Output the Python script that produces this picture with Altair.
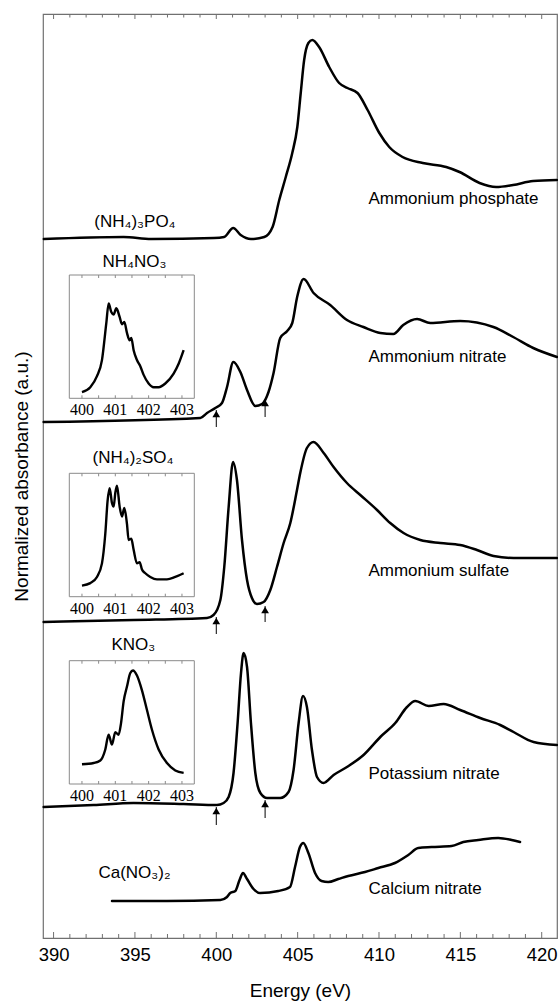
import altair as alt
import pandas as pd

# ---------------- data ----------------
# Energy (eV) and stacked normalized absorbance (a.u.)
phos_E = [389.4, 394.3, 396.0, 399.86, 400.48, 401.04, 401.5, 402.13, 402.95, 403.46, 403.87, 404.27,
          404.67, 404.98, 405.19, 405.4, 405.66, 405.9, 406.32, 406.94, 407.55, 408.06, 408.68, 409.3,
          410.02, 410.63, 411.45, 412.69, 414.13, 414.95, 416.18, 417.2, 418.24, 419.47, 420.94]
phos_A = [6.99, 7.01, 6.99, 7.00, 7.01, 7.10, 7.03, 6.99, 7.01, 7.11, 7.38, 7.61,
          7.85, 8.11, 8.45, 8.78, 8.95, 8.98, 8.91, 8.71, 8.55, 8.50, 8.45, 8.28,
          8.05, 7.91, 7.81, 7.75, 7.71, 7.66, 7.55, 7.51, 7.53, 7.57, 7.58]

nit_E = [389.39, 399.02, 399.43, 399.94, 400.35, 400.66, 401.05, 401.48, 401.89, 402.4, 402.81, 403.21,
         403.52, 403.93, 404.36, 404.67, 404.97, 405.37, 405.98, 407.0, 408.03, 409.04, 410.08, 410.88,
         411.49, 412.34, 413.15, 414.99, 417.03, 418.25, 419.48, 420.94]
nit_A = [5.16, 5.20, 5.25, 5.30, 5.35, 5.51, 5.76, 5.66, 5.48, 5.32, 5.34, 5.46,
         5.65, 6.00, 6.07, 6.15, 6.41, 6.59, 6.45, 6.33, 6.18, 6.11, 6.05, 6.04,
         6.13, 6.19, 6.15, 6.17, 6.11, 6.01, 5.90, 5.81]

sul_E = [389.39, 394.92, 399.43, 399.83, 400.25, 400.49, 400.76, 401.03, 401.27, 401.58, 401.89, 402.19,
         402.5, 402.91, 403.32, 403.73, 404.14, 404.55, 404.96, 405.16, 405.57, 405.98, 406.6, 407.21,
         408.03, 408.85, 409.88, 410.69, 411.51, 412.54, 413.77, 414.99, 416.02, 417.04, 418.27, 419.5, 420.94]
sul_A = [3.16, 3.18, 3.20, 3.23, 3.38, 3.71, 4.31, 4.76, 4.58, 3.98, 3.58, 3.40,
         3.34, 3.36, 3.48, 3.71, 3.95, 4.15, 4.48, 4.65, 4.90, 4.96, 4.85, 4.71,
         4.55, 4.43, 4.28, 4.15, 4.05, 3.98, 3.95, 3.93, 3.88, 3.82, 3.80, 3.80, 3.80]

kno_E = [389.39, 392.46, 394.92, 397.99, 400.04, 400.45, 400.76, 401.06, 401.31, 401.52, 401.68, 401.89,
         402.13, 402.4, 402.71, 403.12, 403.93, 404.44, 404.75, 405.06, 405.33, 405.57, 405.88, 406.19,
         406.59, 407.21, 408.03, 409.05, 410.08, 411.0, 411.72, 412.23, 413.05, 413.97, 414.99, 416.22,
         417.45, 418.27, 419.5, 420.94]
kno_A = [1.31, 1.33, 1.35, 1.34, 1.33, 1.35, 1.41, 1.65, 2.15, 2.65, 2.85, 2.71,
         2.15, 1.65, 1.45, 1.40, 1.40, 1.46, 1.68, 2.15, 2.42, 2.31, 1.88, 1.61,
         1.55, 1.63, 1.71, 1.83, 2.01, 2.15, 2.31, 2.37, 2.32, 2.34, 2.28, 2.20,
         2.13, 2.06, 1.96, 1.93]

ca_E = [393.59, 396.97, 400.25, 400.66, 400.86, 401.17, 401.43, 401.64, 401.89, 402.29, 402.7, 403.81,
        404.53, 404.84, 405.14, 405.35, 405.66, 406.07, 406.47, 406.88, 407.5, 408.11, 409.14, 409.96,
        410.98, 411.8, 412.41, 413.23, 414.46, 415.18, 416.1, 417.33, 418.15, 418.67]
ca_A = [0.37, 0.37, 0.38, 0.41, 0.45, 0.47, 0.58, 0.65, 0.59, 0.49, 0.45, 0.47,
        0.51, 0.71, 0.91, 0.95, 0.85, 0.65, 0.57, 0.56, 0.59, 0.62, 0.66, 0.70,
        0.75, 0.83, 0.90, 0.91, 0.92, 0.96, 0.98, 1.00, 0.98, 0.96]

# Insets (401 eV region), normalized intensity
in_nit_E = [400.0, 400.25, 400.45, 400.6, 400.73, 400.8, 400.88, 400.95, 401.03, 401.13, 401.2, 401.27, 401.35,
            401.43, 401.48, 401.55, 401.65, 401.75, 401.85, 402.0, 402.15, 402.3, 402.5, 402.75, 402.9, 403.05]
in_nit_I = [0.05, 0.09, 0.18, 0.31, 0.61, 0.77, 0.70, 0.68, 0.73, 0.66, 0.60, 0.62, 0.53,
            0.47, 0.49, 0.39, 0.31, 0.26, 0.19, 0.12, 0.09, 0.09, 0.12, 0.20, 0.28, 0.39]
in_sul_E = [400.0, 400.25, 400.45, 400.6, 400.7, 400.77, 400.83, 400.9, 400.95, 401.0, 401.05, 401.13, 401.2,
            401.27, 401.35, 401.4, 401.48, 401.55, 401.65, 401.73, 401.8, 401.9, 402.05, 402.25, 402.55, 402.8, 403.05]
in_sul_I = [0.09, 0.11, 0.16, 0.27, 0.51, 0.78, 0.88, 0.76, 0.73, 0.84, 0.90, 0.73, 0.65,
            0.72, 0.59, 0.46, 0.47, 0.38, 0.27, 0.28, 0.22, 0.19, 0.16, 0.14, 0.14, 0.16, 0.19]
in_kno_E = [400.0, 400.35, 400.55, 400.7, 400.8, 400.9, 401.0, 401.1, 401.17, 401.25, 401.35, 401.45, 401.53,
            401.65, 401.8, 401.95, 402.1, 402.3, 402.55, 402.8, 403.05]
in_kno_I = [0.16, 0.17, 0.19, 0.28, 0.40, 0.32, 0.42, 0.40, 0.49, 0.67, 0.79, 0.90, 0.92,
            0.88, 0.76, 0.60, 0.44, 0.28, 0.17, 0.11, 0.09]

# Arrows (energy, tip and tail absorbance)
arrow_E = [400, 403, 400, 403, 400, 403]
arrow_tip = [5.28, 5.39, 3.21, 3.32, 1.31, 1.38]
arrow_tail = [5.11, 5.21, 3.04, 3.16, 1.13, 1.20]

# Curve labels
right_labels = ["Ammonium phosphate", "Ammonium nitrate", "Ammonium sulfate", "Potassium nitrate", "Calcium nitrate"]
right_label_E = [409.35, 409.35, 409.35, 409.35, 409.35]
right_label_A = [7.39, 5.81, 3.67, 1.64, 0.49]
left_labels = ["(NH₄)₃PO₄", "NH₄NO₃", "(NH₄)₂SO₄", "KNO₃", "Ca(NO₃)₂"]
left_label_E = [395.0, 394.97, 394.88, 394.9, 394.97]
left_label_A = [7.16, 6.76, 4.80, 2.93, 0.65]

major_ticks = [390, 395, 400, 405, 410, 415, 420]
minor_ticks = [v for v in range(390, 421) if v % 5 != 0]
inset_ticks = [400, 400.5, 401, 401.5, 402, 402.5, 403]
inset_labels = [400, 401, 402, 403]

# ---------------- layout ----------------
W, H = 514, 924
X_DOMAIN = [389.35, 420.94]
Y_DOMAIN = [0, 9.24]
INSET_DOMAIN = [399.62, 403.37]
INSET_X_RANGE = [26.3, 151.3]
FONT = "Liberation Sans"
SERIF = "Liberation Serif"

xs = alt.Scale(domain=X_DOMAIN, nice=False, zero=False)
ys = alt.Scale(domain=Y_DOMAIN, nice=False, zero=False)
x_axis = alt.Axis(values=major_ticks, ticks=False, domain=False, grid=False, labelFontSize=18.5,
                  labelFont=FONT, labelColor="black", labelPadding=7, title="Energy (eV)",
                  titleFontSize=19, titleFont=FONT, titleFontWeight="normal", titleColor="black",
                  titlePadding=18, format="d")
y_axis = alt.Axis(labels=False, ticks=False, domain=False, grid=False,
                  title="Normalized absorbance (a.u.)", titleFontSize=19, titleFont=FONT,
                  titleFontWeight="normal", titleColor="black", titlePadding=12)


def X(field):
    return alt.X(field, type="quantitative", scale=xs, axis=x_axis)


def Y(field):
    return alt.Y(field, type="quantitative", scale=ys, axis=y_axis)


rows = []
for name, E, A in [("phos", phos_E, phos_A), ("nit", nit_E, nit_A), ("sul", sul_E, sul_A),
                   ("kno", kno_E, kno_A), ("ca", ca_E, ca_A)]:
    for i, (e, a) in enumerate(zip(E, A)):
        rows.append({"series": name, "E": e, "A": a, "idx": i})
main_df = pd.DataFrame(rows)

curves = alt.Chart(main_df).mark_line(color="black", strokeWidth=2.5, interpolate="monotone",
                                      strokeJoin="round", strokeCap="round").encode(
    x=X("E"), y=Y("A"), detail="series:N", order="idx:Q")

major_df = pd.DataFrame({"E": major_ticks})
minor_df = pd.DataFrame({"E": minor_ticks})
tick_color = "#707070"


def tick_layer(df, y0, y1):
    return alt.Chart(df).mark_rule(color=tick_color, strokeWidth=1).encode(
        x=X("E"), y=alt.value(y0), y2=alt.value(y1))


ticks = [tick_layer(major_df, H, H - 6), tick_layer(minor_df, H, H - 4),
         tick_layer(major_df, 0, 5), tick_layer(minor_df, 0, 3.5)]

arrow_df = pd.DataFrame({"E": arrow_E, "tip": arrow_tip, "tail": arrow_tail})
arrow_stems = alt.Chart(arrow_df).mark_rule(color="black", strokeWidth=1).encode(
    x=X("E"), y=Y("tip"), y2="tail:Q")
arrow_heads = alt.Chart(arrow_df).mark_point(shape="triangle-up", filled=True, color="black",
                                             size=60, opacity=1, yOffset=4).encode(
    x=X("E"), y=Y("tip"))

rl_df = pd.DataFrame({"E": right_label_E, "A": right_label_A, "t": right_labels})
ll_df = pd.DataFrame({"E": left_label_E, "A": left_label_A, "t": left_labels})
right_text = alt.Chart(rl_df).mark_text(align="left", baseline="middle", font=FONT, fontSize=17,
                                        color="black").encode(x=X("E"), y=Y("A"), text="t:N")
left_text = alt.Chart(ll_df).mark_text(align="center", baseline="middle", font=FONT, fontSize=17,
                                       color="black").encode(x=X("E"), y=Y("A"), text="t:N")

main = alt.layer(curves, *ticks, arrow_stems, arrow_heads, right_text, left_text)


def inset(E, I, y_range):
    xsc = alt.Scale(domain=INSET_DOMAIN, range=INSET_X_RANGE, nice=False, zero=False)
    ysc = alt.Scale(domain=[0, 1], range=y_range, nice=False, zero=False)
    ix = alt.X("E", type="quantitative", scale=xsc, axis=None)
    df = pd.DataFrame({"E": E, "I": I, "idx": list(range(len(E)))})
    bottom, top = y_range
    box = alt.Chart(pd.DataFrame({"k": [0]})).mark_rect(fillOpacity=0, stroke="#8a8a8a",
                                                        strokeWidth=1).encode(
        x=alt.value(INSET_X_RANGE[0]), x2=alt.value(INSET_X_RANGE[1]),
        y=alt.value(top), y2=alt.value(bottom))
    line = alt.Chart(df).mark_line(color="black", strokeWidth=2.4, interpolate="monotone",
                                   strokeJoin="round").encode(
        x=ix, y=alt.Y("I", type="quantitative", scale=ysc, axis=None), order="idx:Q")
    tdf = pd.DataFrame({"E": inset_ticks})
    t_top = alt.Chart(tdf).mark_rule(color="#8a8a8a", strokeWidth=1).encode(
        x=ix, y=alt.value(top), y2=alt.value(top + 3))
    t_bot = alt.Chart(tdf).mark_rule(color="#8a8a8a", strokeWidth=1).encode(
        x=ix, y=alt.value(bottom), y2=alt.value(bottom - 3))
    ldf = pd.DataFrame({"E": inset_labels, "t": [str(v) for v in inset_labels]})
    labels = alt.Chart(ldf).mark_text(font=SERIF, fontSize=16, baseline="top", align="center",
                                      color="black").encode(
        x=ix, y=alt.value(bottom + 4), text="t:N")
    return alt.layer(box, t_top, t_bot, line, labels)


inset_nit = inset(in_nit_E, in_nit_I, [384.3, 261.0])
inset_sul = inset(in_sul_E, in_sul_I, [582.7, 459.3])
inset_kno = inset(in_kno_E, in_kno_I, [770.0, 646.7])

chart = alt.layer(main, inset_nit, inset_sul, inset_kno).resolve_scale(
    x="independent", y="independent"
).properties(
    width=W, height=H,
    padding={"left": 43, "top": 14, "right": 1, "bottom": 66},
    autosize=alt.AutoSizeParams(type="none"),
    background="white",
).configure_view(stroke="#707070", strokeWidth=1.2)

chart.save("out.html", embed_options={"renderer": "svg", "actions": False})
